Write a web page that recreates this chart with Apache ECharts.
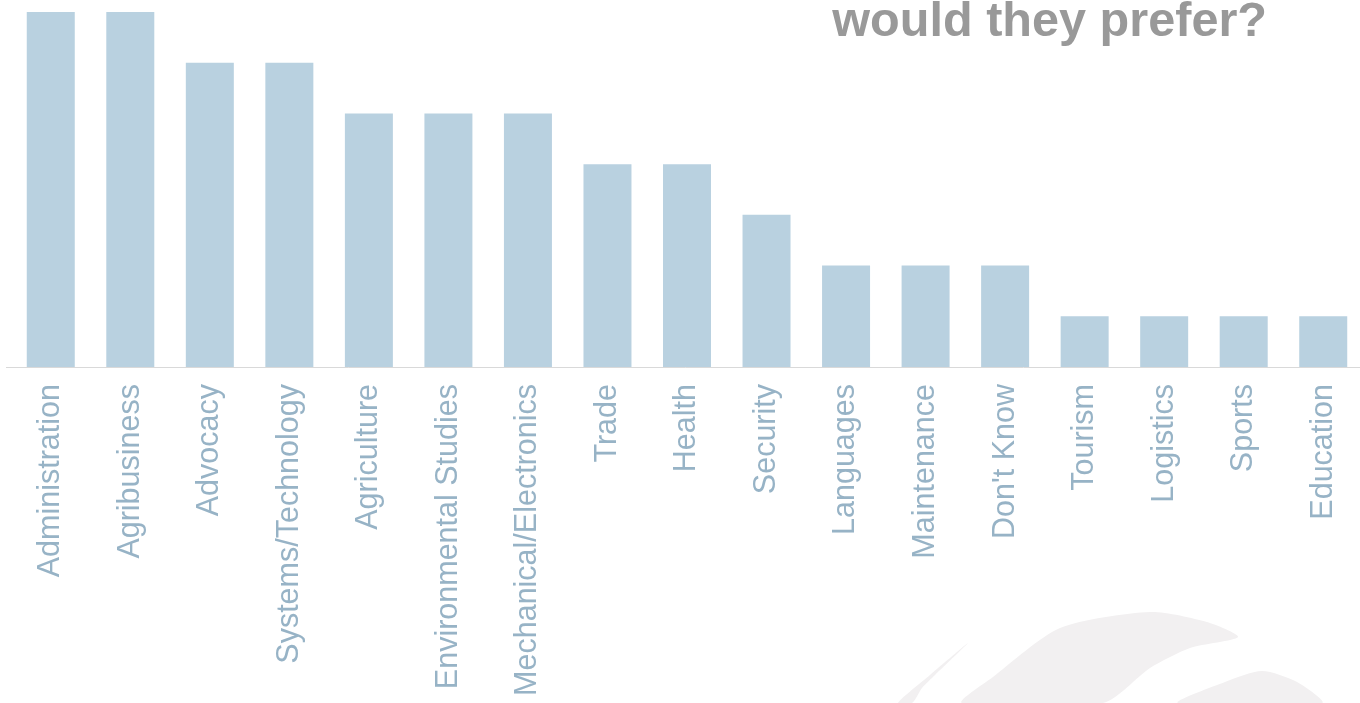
<!DOCTYPE html>
<html>
<head>
<meta charset="utf-8">
<script src="https://cdn.jsdelivr.net/npm/echarts@6/dist/echarts.min.js"></script>
<style>
  html, body { margin: 0; padding: 0; background: #ffffff; }
  #chart { width: 1360px; height: 703px; }
</style>
</head>
<body>
<div id="chart"></div>
<script>
// Preferred fields of study (number of responses)
const categories = [
  'Administration', 'Agribusiness', 'Advocacy', 'Systems/Technology',
  'Agriculture', 'Environmental Studies', 'Mechanical/Electronics',
  'Trade', 'Health', 'Security', 'Languages', 'Maintenance',
  "Don't Know", 'Tourism', 'Logistics', 'Sports', 'Education'
];
const responses = [7, 7, 6, 6, 5, 5, 5, 4, 4, 3, 2, 2, 2, 1, 1, 1, 1];
const headline = 'would they prefer?';

const chart = echarts.init(document.getElementById('chart'), null, { renderer: 'canvas' });

// Soft decorative swooshes in the lower right corner
const swooshColor = '#f2f0f1';
const swooshes = [
  [[898, 703], [930, 675], [968, 643], [935, 675], [922, 688], [912, 703]],
  [[962, 703], [993, 677], [1060, 628], [1150, 612], [1207, 622], [1238, 637],
   [1190, 648], [1150, 668], [1103, 703]],
  [[1178, 703], [1225, 682], [1262, 671], [1297, 682], [1322, 703]]
];

chart.setOption({
  animation: false,
  backgroundColor: '#ffffff',
  graphic: [
    ...swooshes.map(pts => ({
      type: 'polygon',
      z: -10,
      silent: true,
      shape: { points: pts, smooth: 0.25 },
      style: { fill: swooshColor }
    })),
    {
      type: 'text',
      right: 93,
      top: -2,
      style: {
        text: headline,
        fill: '#999999',
        font: 'bold 48.6px "Liberation Sans", Arial, sans-serif'
      }
    },
    {
      // baseline continues a little past the first category band
      type: 'line',
      silent: true,
      shape: { x1: 6, y1: 367.5, x2: 12, y2: 367.5 },
      style: { stroke: '#d9d9d9', lineWidth: 1 }
    }
  ],
  grid: {
    left: 11, top: 12, width: 1352, height: 355,
    containLabel: false,
    outerBoundsMode: 'none'
  },
  xAxis: {
    type: 'category',
    data: categories,
    axisLine: { show: true, lineStyle: { color: '#d9d9d9', width: 1 } },
    axisTick: { show: false },
    axisLabel: {
      rotate: 90,
      interval: 0,
      margin: 17,
      color: '#97b3c6',
      fontSize: 30.5,
      fontFamily: '"Liberation Sans", Arial, sans-serif'
    },
    splitLine: { show: false }
  },
  yAxis: {
    type: 'value',
    min: 0,
    max: 7,
    interval: 1,
    show: false,
    splitLine: { show: false }
  },
  series: [{
    type: 'bar',
    data: responses,
    barWidth: 48,
    itemStyle: { color: '#b9d1e0' },
    label: { show: false }
  }]
});
</script>
</body>
</html>
